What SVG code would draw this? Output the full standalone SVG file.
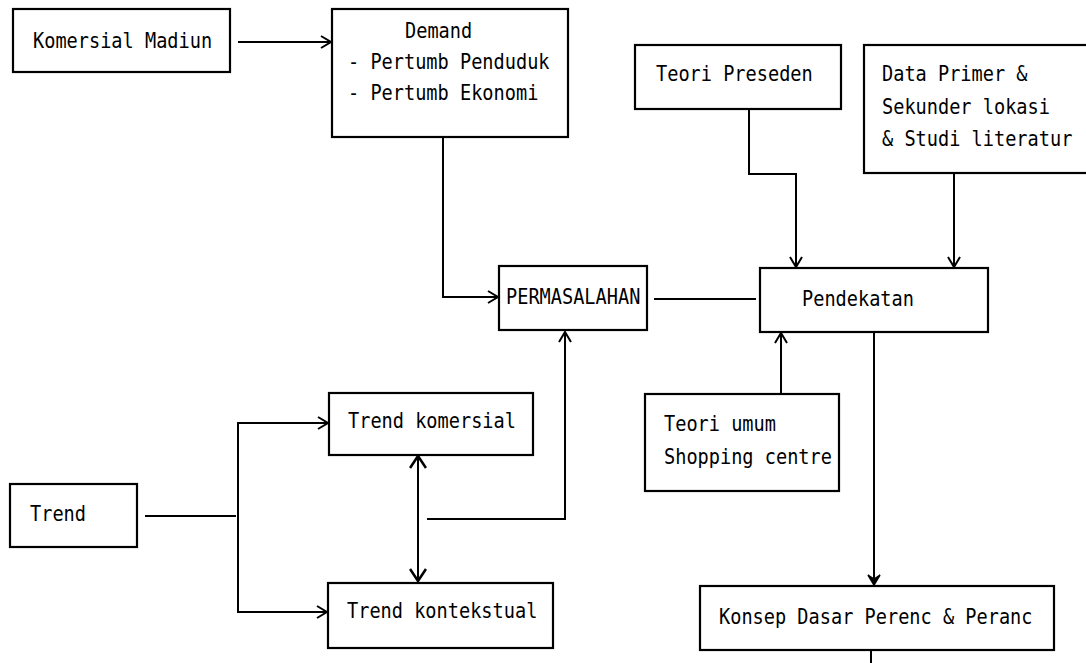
<svg xmlns="http://www.w3.org/2000/svg" width="1086" height="663" viewBox="0 0 1086 663">
<defs>
<style>
.box{fill:#fff;stroke:#000;stroke-width:2.2}
.t{font-family:"DejaVu Sans Mono","Liberation Mono",monospace;font-size:22px;fill:#000}
.c{fill:none;stroke:#000;stroke-width:2}
</style>
<marker id="a" viewBox="-12 -8 14 16" markerWidth="14" markerHeight="16" refX="0" refY="0" orient="auto-start-reverse" markerUnits="userSpaceOnUse">
<path d="M-10,-6 L0,0 L-10,6" fill="none" stroke="#000" stroke-width="2"/>
</marker>
<marker id="b" viewBox="-14 -9 16 18" markerWidth="16" markerHeight="18" refX="0" refY="0" orient="auto-start-reverse" markerUnits="userSpaceOnUse">
<path d="M-12,-8 L0,0 L-12,8" fill="none" stroke="#000" stroke-width="2.6"/>
</marker>
<marker id="f" viewBox="-12 -8 14 16" markerWidth="14" markerHeight="16" refX="0" refY="0" orient="auto" markerUnits="userSpaceOnUse">
<path d="M-10,-6 L0,0 L-10,6 L-6,0 Z" fill="#000" stroke="#000" stroke-width="1.5"/>
</marker>
</defs>
<rect width="1086" height="663" fill="#fff"/>
<g id="connectors">
<path class="c" d="M238,42 H331" marker-end="url(#a)"/>
<path class="c" d="M443,137 V297 H498" marker-end="url(#a)"/>
<path class="c" d="M654,299 H756"/>
<path class="c" d="M749,109 V174 H796 V267" marker-end="url(#a)"/>
<path class="c" d="M954,173 V267" marker-end="url(#a)"/>
<path class="c" d="M781,394 V333" marker-end="url(#a)"/>
<path class="c" d="M874,332 V585" marker-end="url(#f)"/>
<path class="c" d="M871,650 V663"/>
<path class="c" d="M145,516 H236"/>
<path class="c" d="M328,423 H238 V612 H327" marker-start="url(#a)" marker-end="url(#a)"/>
<path class="c" d="M418,456 V581" marker-start="url(#b)" marker-end="url(#b)"/>
<path class="c" d="M427,519 H565 V332" marker-end="url(#a)"/>
</g>
<g id="komersial-madiun">
<rect class="box" x="13" y="9" width="217" height="63"/>
<text class="t" transform="matrix(0.846,0,0,1,33,48)">Komersial Madiun</text>
</g>
<g id="demand">
<rect class="box" x="332" y="9" width="236" height="128"/>
<text class="t" transform="matrix(0.846,0,0,1,405,38)">Demand</text>
<text class="t" transform="matrix(0.846,0,0,1,348,69)">- Pertumb Penduduk</text>
<text class="t" transform="matrix(0.846,0,0,1,348,100)">- Pertumb Ekonomi</text>
</g>
<g id="teori-preseden">
<rect class="box" x="635" y="45" width="206" height="64"/>
<text class="t" transform="matrix(0.846,0,0,1,656,81)">Teori Preseden</text>
</g>
<g id="data-primer">
<rect class="box" x="864" y="45" width="230" height="128"/>
<text class="t" transform="matrix(0.846,0,0,1,882,81)">Data Primer &amp;</text>
<text class="t" transform="matrix(0.846,0,0,1,882,114)">Sekunder lokasi</text>
<text class="t" transform="matrix(0.846,0,0,1,882,146)">&amp; Studi literatur</text>
</g>
<g id="permasalahan">
<rect class="box" x="499" y="266" width="148" height="64"/>
<text class="t" transform="matrix(0.846,0,0,1,506,304)">PERMASALAHAN</text>
</g>
<g id="pendekatan">
<rect class="box" x="760" y="268" width="228" height="64"/>
<text class="t" transform="matrix(0.846,0,0,1,802,306)">Pendekatan</text>
</g>
<g id="teori-umum">
<rect class="box" x="645" y="394" width="194" height="97"/>
<text class="t" transform="matrix(0.846,0,0,1,664,431)">Teori umum</text>
<text class="t" transform="matrix(0.846,0,0,1,664,464)">Shopping centre</text>
</g>
<g id="konsep">
<rect class="box" x="700" y="586" width="354" height="64"/>
<text class="t" transform="matrix(0.846,0,0,1,719,624)">Konsep Dasar Perenc &amp; Peranc</text>
</g>
<g id="trend-komersial">
<rect class="box" x="329" y="393" width="204" height="62"/>
<text class="t" transform="matrix(0.846,0,0,1,348,428)">Trend komersial</text>
</g>
<g id="trend-kontekstual">
<rect class="box" x="328" y="583" width="225" height="65"/>
<text class="t" transform="matrix(0.846,0,0,1,347,618)">Trend kontekstual</text>
</g>
<g id="trend">
<rect class="box" x="10" y="484" width="127" height="63"/>
<text class="t" transform="matrix(0.846,0,0,1,30,521)">Trend</text>
</g>
</svg>
